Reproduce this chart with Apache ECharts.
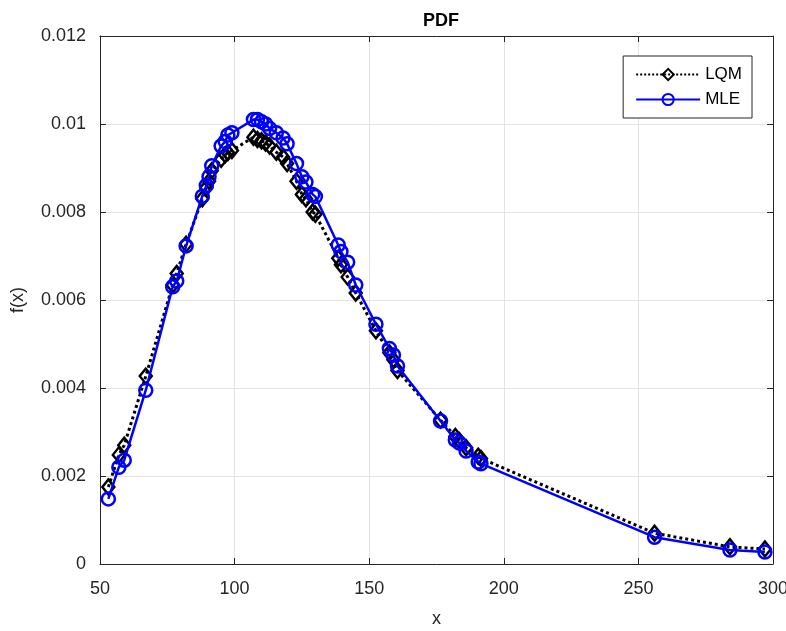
<!DOCTYPE html>
<html>
<head>
<meta charset="utf-8">
<script src="https://cdn.jsdelivr.net/npm/echarts@6/dist/echarts.min.js"></script>
<style>html,body{margin:0;padding:0;background:#fff}#c{width:786px;height:631px}</style>
</head>
<body>
<div id="c"></div>
<script>
var xValues = [53.1, 57, 59, 67, 77, 78.5, 82, 88, 89.5, 90.5, 91.5, 95, 96.5, 97.5, 99, 107, 108.5, 110, 111.5, 113, 115.5, 118, 119.5, 123, 125, 126.5, 129, 130, 138.5, 139.5, 142, 145, 152.5, 157.5, 159, 160.5, 176.5, 182, 183.5, 186, 190.5, 191.5, 256, 284, 297];
var lqmValues = [0.00175, 0.00248, 0.0027, 0.00427, 0.00634, 0.0066, 0.00727, 0.0083, 0.00855, 0.0087, 0.00894, 0.0092, 0.0093, 0.00935, 0.0094, 0.0097, 0.00965, 0.00962, 0.00957, 0.0095, 0.00936, 0.00925, 0.0091, 0.0087, 0.0084, 0.0083, 0.008, 0.00795, 0.00695, 0.0068, 0.00652, 0.00616, 0.0053, 0.0048, 0.00464, 0.0044, 0.00327, 0.0029, 0.0028, 0.00264, 0.00245, 0.0024, 0.0007, 0.00039, 0.00034];
var mleValues = [0.00148, 0.0022, 0.00236, 0.00395, 0.0063, 0.00643, 0.00723, 0.00836, 0.0086, 0.0088, 0.00905, 0.0095, 0.0096, 0.00975, 0.0098, 0.0101, 0.0101, 0.01005, 0.01, 0.0099, 0.0098, 0.00968, 0.00955, 0.0091, 0.0088, 0.00868, 0.0084, 0.00835, 0.00725, 0.0071, 0.00686, 0.00634, 0.00545, 0.0049, 0.00475, 0.0045, 0.00325, 0.00282, 0.00275, 0.00257, 0.00232, 0.00228, 0.00061, 0.00032, 0.00027];
var seriesNames = ['LQM', 'MLE'];

function pairs(ys) { return xValues.map(function (x, i) { return [x, ys[i]]; }); }

var axisColor = '#262626';
var font = 'Arial, "Liberation Sans", Helvetica, sans-serif';
var chart = echarts.init(document.getElementById('c'));
var baseX = {
  type: 'value', min: 50, max: 300, interval: 50,
  axisLine: { show: true, onZero: false, lineStyle: { color: axisColor, width: 1 } },
  axisTick: { show: true, inside: true, length: 6, lineStyle: { color: axisColor } },
  splitLine: { show: true, lineStyle: { color: '#e3e3e3', width: 1 } }
};
var baseY = {
  type: 'value', min: 0, max: 0.012, interval: 0.002,
  axisLine: { show: true, onZero: false, lineStyle: { color: axisColor, width: 1 } },
  axisTick: { show: true, inside: true, length: 6, lineStyle: { color: axisColor } },
  splitLine: { show: true, lineStyle: { color: '#e3e3e3', width: 1 } }
};
chart.setOption({
  animation: false,
  backgroundColor: '#fff',
  title: {
    text: 'PDF', left: 436, top: 7, textAlign: 'center',
    textStyle: { fontFamily: font, fontSize: 18, fontWeight: 'bold', color: '#000' }
  },
  legend: {
    data: seriesNames,
    orient: 'vertical',
    right: 34, top: 56,
    backgroundColor: '#fff',
    borderColor: '#262626', borderWidth: 1, borderRadius: 0,
    padding: [10, 10, 10, 12],
    itemGap: 8,
    itemWidth: 64, itemHeight: 14,
    textStyle: { fontFamily: font, fontSize: 17, color: '#000' }
  },
  grid: { left: 100, right: 13, top: 36, bottom: 67, containLabel: false, outerBoundsMode: 'none' },
  xAxis: [
    Object.assign({}, baseX, {
      position: 'bottom',
      name: 'x', nameLocation: 'middle', nameGap: 46,
      nameTextStyle: { fontFamily: font, fontSize: 18, color: axisColor },
      axisLabel: { fontFamily: font, fontSize: 18, color: axisColor, margin: 16 }
    }),
    Object.assign({}, baseX, { position: 'top', axisLabel: { show: false }, splitLine: { show: false } })
  ],
  yAxis: [
    Object.assign({}, baseY, {
      position: 'left',
      name: 'f(x)', nameLocation: 'middle', nameGap: 73, nameRotate: 90,
      nameTextStyle: { fontFamily: font, fontSize: 18, color: axisColor },
      axisLabel: { fontFamily: font, fontSize: 18, color: axisColor, margin: 14 }
    }),
    Object.assign({}, baseY, { position: 'right', axisLabel: { show: false }, splitLine: { show: false } })
  ],
  series: [
    {
      name: seriesNames[0], type: 'line', data: pairs(lqmValues),
      symbol: 'diamond', symbolSize: [12, 15], showAllSymbol: true,
      lineStyle: { color: '#000', width: 3, type: 'dotted' },
      itemStyle: { color: 'rgba(0,0,0,0)', borderColor: '#000', borderWidth: 2.5 },
      z: 2
    },
    {
      name: seriesNames[1], type: 'line', data: pairs(mleValues),
      symbol: 'circle', symbolSize: 13, showAllSymbol: true,
      lineStyle: { color: '#0000ff', width: 2.5 },
      itemStyle: { color: 'rgba(0,0,0,0)', borderColor: '#0000ff', borderWidth: 2.5 },
      z: 3
    }
  ]
});
</script>
</body>
</html>
